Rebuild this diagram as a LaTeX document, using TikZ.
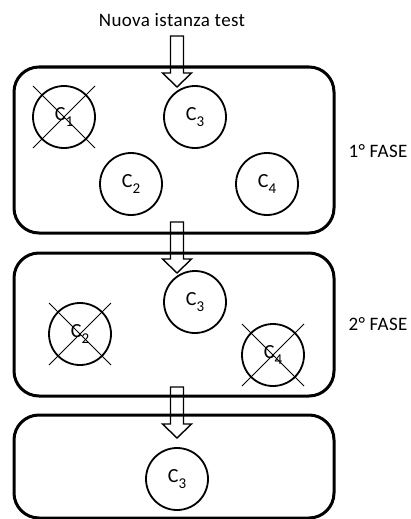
\documentclass[tikz,border=0pt]{standalone}
\usepackage{fontspec}
\setmainfont[LetterSpace=2]{Carlito}
\usetikzlibrary{calc}

\newcommand{\cname}[1]{C\raisebox{-6pt}{\fontsize{15}{15}\selectfont #1}}

\tikzset{
    blockarrow/.pic={
        \draw[line width=1.4pt] (-6.5,0) -- (6.5,0) -- (6.5,37) -- (14.5,37) -- (0,51)
            -- (-14.5,37) -- (-6.5,37) -- cycle;
    }
}

\begin{document}
\begin{tikzpicture}[x=1pt, y=-1pt, font=\fontsize{19}{22}\selectfont]
    % Styles
    \tikzstyle{phase} = [rectangle, rounded corners=25pt, minimum width=320pt, draw=black, line width=3pt]
    \tikzstyle{comp} = [circle, minimum size=62pt, inner sep=0pt, draw=black, line width=1.8pt, font=\fontsize{20}{22}\selectfont]
    \tikzstyle{cross} = [line width=0.9pt]

    \useasboundingbox (0,0) rectangle (411,519);

    % Phases
    \node (fase1) [phase, minimum height=166pt] at (174,150) {};
    \node (fase2) [phase, minimum height=143pt] at (174,324.5) {};
    \node (fase3) [phase, minimum height=103pt] at (174,466.5) {};

    % Labels
    \node (input) at (172,20) {Nuova istanza test};
    \node (label1) at (378,151) {1° FASE};
    \node (label2) at (378,324) {2° FASE};

    % Components
    \node (c1a) [comp] at (64,117) {\cname{1}};
    \node (c3a) [comp] at (195,117) {\cname{3}};
    \node (c2a) [comp] at (131,184) {\cname{2}};
    \node (c4a) [comp] at (267,184) {\cname{4}};

    \node (c3b) [comp] at (195,302) {\cname{3}};
    \node (c2b) [comp] at (80,334) {\cname{2}};
    \node (c4b) [comp] at (273,355) {\cname{4}};

    \node (c3c) [comp] at (177,479) {\cname{3}};

    % Discarded components
    \foreach \c in {c1a, c2b, c4b} {
        \draw [cross] ($(\c)+(-31,-31)$) -- ($(\c)+(31,31)$);
        \draw [cross] ($(\c)+(-31,31)$) -- ($(\c)+(31,-31)$);
    }

    % Arrows
    \pic at (177,36) {blockarrow};
    \pic at (177,222) {blockarrow};
    \pic at (177,387) {blockarrow};
\end{tikzpicture}
\end{document}
